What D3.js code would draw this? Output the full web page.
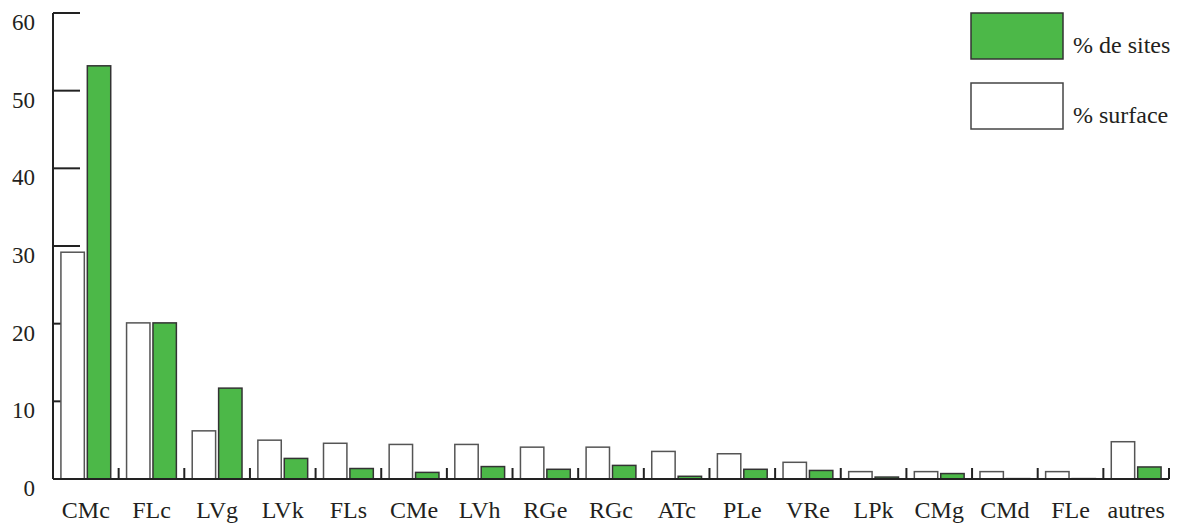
<!DOCTYPE html>
<html><head><meta charset="utf-8">
<script src="https://cdn.jsdelivr.net/npm/d3@7"></script>
<style>
html,body{margin:0;padding:0;background:#fff;}
text{font-family:"Liberation Serif","Times New Roman",serif;fill:#231f20;}
</style></head>
<body><svg id="c" width="1178" height="525"></svg>
<script>
const categories = ["CMc","FLc","LVg","LVk","FLs","CMe","LVh","RGe","RGc","ATc","PLe","VRe","LPk","CMg","CMd","FLe","autres"];
const surface = [29.2,20.1,6.2,5.0,4.6,4.45,4.45,4.1,4.1,3.55,3.25,2.15,0.95,0.95,0.95,0.95,4.8];
const sites   = [53.2,20.1,11.7,2.65,1.35,0.85,1.6,1.25,1.75,0.35,1.25,1.1,0.25,0.7,0.05,0.05,1.55];
const yTicks = [0,10,20,30,40,50,60];
const seriesKeys = ["surface","sites"];
const seriesLabels = ["% de sites","% surface"];

const svg = d3.select("#c");
const x0 = 53, x1 = 1169, yTop = 13, yBase = 479;
const x = d3.scaleBand().domain(categories).range([x0, x1]).paddingInner(0).paddingOuter(0);
const xs = d3.scaleBand().domain(seriesKeys).range([0, x.bandwidth()]).paddingInner(0.114).paddingOuter(0.30);
const y = d3.scaleLinear().domain([0, 60]).range([yBase, yTop]);

// y ticks (pointing inward) under bars
svg.append("g").selectAll("line").data(yTicks.filter(d=>d>0)).join("line")
  .attr("x1", x0).attr("x2", x0 + 27)
  .attr("y1", d=>y(d)).attr("y2", d=>y(d))
  .attr("stroke", "#222").attr("stroke-width", 2);
svg.append("g").selectAll("text").data(yTicks).join("text")
  .attr("x", 35).attr("y", d=>y(d) + 17)
  .attr("text-anchor","end").attr("font-size", 23)
  .text(d=>d);

// bars
const data = categories.map((c,i)=>({c, surface: surface[i], sites: sites[i]}));
const g = svg.append("g").selectAll("g").data(data).join("g")
  .attr("transform", d=>`translate(${x(d.c)},0)`);
g.selectAll("rect").data(d=>seriesKeys.map(k=>({k, v:d[k]}))).join("rect")
  .attr("x", d=>xs(d.k)).attr("width", xs.bandwidth())
  .attr("y", d=>y(d.v)).attr("height", d=>yBase - y(d.v))
  .attr("fill", d=>d.k==="sites" ? "#4cb848" : "#ffffff")
  .attr("stroke", d=>d.k==="sites" ? "#333" : "#555")
  .attr("stroke-width", 1.5);

// axes lines
svg.append("line").attr("x1", x0).attr("x2", x0).attr("y1", yTop).attr("y2", yBase)
  .attr("stroke","#222").attr("stroke-width",2);
svg.append("line").attr("x1", x0).attr("x2", x1).attr("y1", yBase).attr("y2", yBase)
  .attr("stroke","#222").attr("stroke-width",2);
// group separator ticks
svg.append("g").selectAll("line").data(categories).join("line")
  .attr("x1", d=>x(d)+x.bandwidth()).attr("x2", d=>x(d)+x.bandwidth())
  .attr("y1", yBase - 11).attr("y2", yBase)
  .attr("stroke","#222").attr("stroke-width",2);
// category labels
svg.append("g").selectAll("text").data(categories).join("text")
  .attr("x", d=>x(d)+x.bandwidth()/2).attr("y", 518)
  .attr("text-anchor","middle").attr("font-size", 24)
  .text(d=>d);

// legend
const legend = [{label: seriesLabels[0], fill:"#4cb848", stroke:"#333"},{label: seriesLabels[1], fill:"#fff", stroke:"#444"}];
const lg = svg.append("g").selectAll("g").data(legend).join("g")
  .attr("transform",(d,i)=>`translate(971,${13 + i*70})`);
lg.append("rect").attr("width", 92).attr("height", 46)
  .attr("fill", d=>d.fill).attr("stroke", d=>d.stroke).attr("stroke-width",1.5);
lg.append("text").attr("x", 102).attr("y", 40).attr("font-size", 24).text(d=>d.label);
</script></body></html>
